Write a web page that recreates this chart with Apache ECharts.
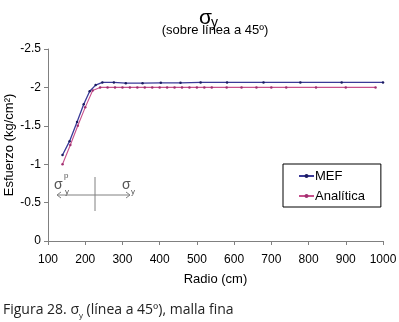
<!DOCTYPE html>
<html>
<head>
<meta charset="utf-8">
<script src="https://cdn.jsdelivr.net/npm/echarts@6/dist/echarts.min.js"></script>
<style>
html,body{margin:0;padding:0;background:#fff;}
#c{width:399px;height:322px;}
</style>
</head>
<body>
<div id="c"></div>
<script>
// Data
var mefX = [139, 158, 178, 196, 212, 228, 246, 277, 309, 354, 403, 456, 510, 581, 679, 778, 889, 1000];
var mefY = [-1.12, -1.30, -1.55, -1.78, -1.95, -2.03, -2.065, -2.065, -2.055, -2.055, -2.06, -2.06, -2.065, -2.065, -2.065, -2.065, -2.065, -2.065];
var anaX = [139, 160, 180, 200, 220, 240, 260, 280, 300, 320, 340, 360, 380, 400, 420, 440, 460, 480, 500, 520, 540, 580, 620, 660, 700, 740, 820, 900, 980];
var anaY = [-1.0, -1.25, -1.5, -1.74, -1.96, -2.0, -2.0, -2.0, -2.0, -2.0, -2.0, -2.0, -2.0, -2.0, -2.0, -2.0, -2.0, -2.0, -2.0, -2.0, -2.0, -2.0, -2.0, -2.0, -2.0, -2.0, -2.0, -2.0, -2.0];
var xTicks = {min: 100, max: 1000, interval: 100};
var yTicks = {min: -2.5, max: 0, interval: 0.5};
var seriesNames = ['MEF', 'Analítica'];

function pairs(xs, ys) { return xs.map(function (x, i) { return [x, ys[i]]; }); }

var chart = echarts.init(document.getElementById('c'), null, {renderer: 'canvas'});
var font = 'Liberation Sans, Arial, sans-serif';
var gray = '#808080';
chart.setOption({
  animation: false,
  backgroundColor: '#fff',
  title: [
    {text: '(sobre línea a 45º)', left: 210, top: 19, textAlign: 'center',
     textStyle: {fontSize: 13, fontWeight: 'normal', fontFamily: font, color: '#000'}}
  ],
  grid: {left: 48, right: 16, top: 49, bottom: 81, containLabel: false, outerBoundsMode: 'none'},
  legend: {
    data: seriesNames, orient: 'vertical', left: 283, top: 164,
    backgroundColor: '#fff', borderColor: '#000', borderWidth: 1,
    padding: [5, 16, 4, 15], itemGap: 6, itemWidth: 15, itemHeight: 5,
    textStyle: {fontSize: 13, fontFamily: font, color: '#000', padding: [0, 0, 0, -4], lineHeight: 14}
  },
  xAxis: {
    type: 'value', min: xTicks.min, max: xTicks.max, interval: xTicks.interval,
    name: 'Radio (cm)', nameLocation: 'middle', nameGap: 32, nameMoveOverlap: false,
    nameTextStyle: {fontSize: 13, fontFamily: font, color: '#000'},
    axisLine: {lineStyle: {color: gray}},
    axisTick: {show: true, inside: false, length: 4, lineStyle: {color: gray}},
    axisLabel: {fontSize: 12, fontFamily: font, color: '#000', margin: 13,
                formatter: function (v) { return String(v); }},
    splitLine: {show: false}
  },
  yAxis: {
    type: 'value', inverse: true, min: yTicks.min, max: yTicks.max, interval: yTicks.interval,
    name: 'Esfuerzo (kg/cm²)', nameLocation: 'middle', nameGap: 32, nameMoveOverlap: false,
    nameTextStyle: {fontSize: 13, fontFamily: font, color: '#000'},
    axisLine: {show: true, lineStyle: {color: gray}},
    axisTick: {show: true, inside: false, length: 4, lineStyle: {color: gray}},
    axisLabel: {fontSize: 12, fontFamily: font, color: '#000', margin: 7,
                formatter: function (v) { return String(v); }},
    splitLine: {show: false}
  },
  series: [
    {name: seriesNames[0], type: 'line', data: pairs(mefX, mefY),
     symbol: 'circle', symbolSize: 2.5, showSymbol: true,
     lineStyle: {color: '#3a3a98', width: 1.3}, itemStyle: {color: '#1a1a60'}, z: 3},
    {name: seriesNames[1], type: 'line', data: pairs(anaX, anaY),
     symbol: 'circle', symbolSize: 2.5, showSymbol: true,
     lineStyle: {color: '#c8508c', width: 1.1}, itemStyle: {color: '#a03070'}, z: 2}
  ],
  graphic: [
    // title sigma_y
    {type: 'text', style: {x: 199, y: 18, text: 'σ', fontSize: 21, fontFamily: font, fill: '#000', verticalAlign: 'middle'}},
    {type: 'text', style: {x: 211, y: 23, text: 'y', fontSize: 14, fontFamily: font, fill: '#000', verticalAlign: 'middle'}},
    // sigma diagram
    {type: 'line', shape: {x1: 57, y1: 195, x2: 130, y2: 195}, style: {stroke: gray, lineWidth: 1}},
    {type: 'polyline', shape: {points: [[61, 192], [57, 195], [61, 198]]}, style: {stroke: gray, lineWidth: 1, fill: null}},
    {type: 'polyline', shape: {points: [[126, 192], [130, 195], [126, 198]]}, style: {stroke: gray, lineWidth: 1, fill: null}},
    {type: 'line', shape: {x1: 95, y1: 177, x2: 95, y2: 211}, style: {stroke: gray, lineWidth: 1}},
    {type: 'text', left: 54, top: 178, style: {text: 'σ', fontSize: 14, fontFamily: font, fill: '#555'}},
    {type: 'text', left: 64, top: 172, style: {text: 'p', fontSize: 8, fontFamily: font, fill: '#555'}},
    {type: 'text', left: 65, top: 188, style: {text: 'y', fontSize: 8, fontFamily: font, fill: '#555'}},
    {type: 'text', left: 122, top: 178, style: {text: 'σ', fontSize: 14, fontFamily: font, fill: '#555'}},
    {type: 'text', left: 131, top: 188, style: {text: 'y', fontSize: 8, fontFamily: font, fill: '#555'}},
    // caption
    {type: 'text', left: 3, top: 303, style: {
      text: '{a|Figura 28. σ}{b|y}{a| (línea a 45º), malla fina}',
      rich: {
        a: {fontSize: 14, fontFamily: 'Open Sans, sans-serif', fill: '#222'},
        b: {fontSize: 8, fontFamily: 'Open Sans, sans-serif', fill: '#222', verticalAlign: 'bottom', padding: [0, 0, -3, 0]}
      }}}
  ]
});
</script>
</body>
</html>
